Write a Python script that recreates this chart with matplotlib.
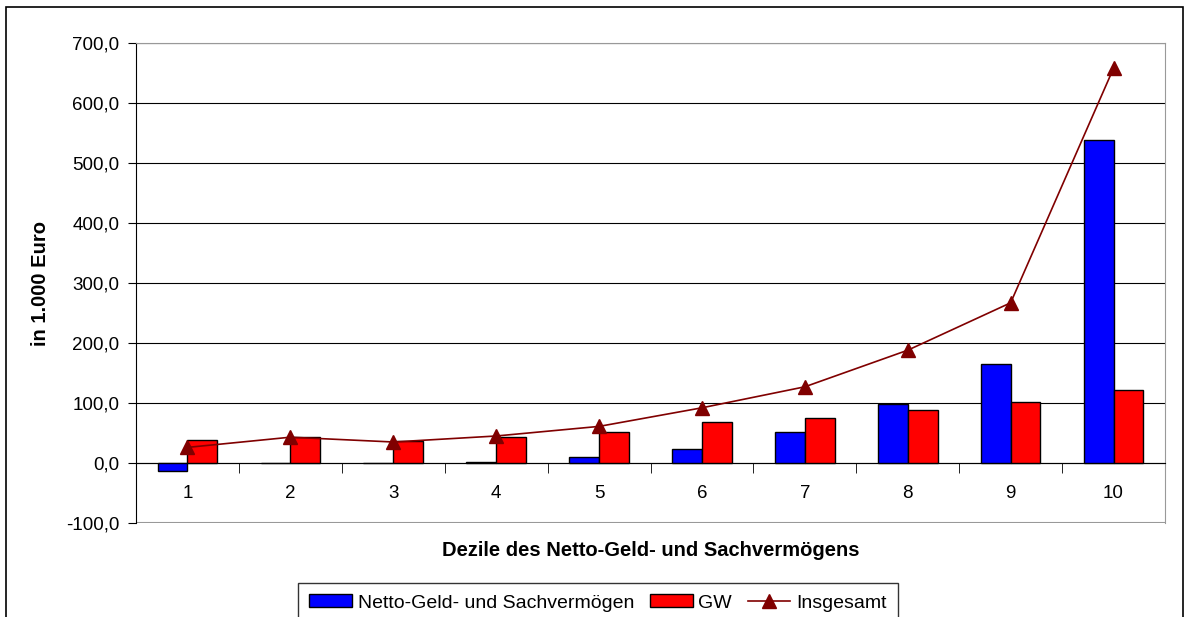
import matplotlib.pyplot as plt
import matplotlib.patches as mpatches
import numpy as np

plt.rcParams['font.family'] = ['Liberation Sans', 'DejaVu Sans']

# Dezile
dezile = [1, 2, 3, 4, 5, 6, 7, 8, 9, 10]
netto = [-14.0, 0.0, 0.0, 2.0, 10.0, 23.0, 52.0, 98.0, 165.0, 538.0]
gw = [38.0, 44.0, 37.0, 44.0, 52.0, 68.0, 75.0, 88.0, 101.0, 122.0]
insgesamt = [26.0, 43.0, 35.0, 45.0, 61.0, 92.0, 127.0, 188.0, 267.0, 658.0]

fig = plt.figure(figsize=(11.89, 6.17), dpi=100)
ax = fig.add_axes([136/1189, 1 - 523/617, (1165-136)/1189, 480/617])

x = np.array(dezile)
w = 0.29
b1 = ax.bar(x - w/2, netto, w, color='#0000FF', edgecolor='black', linewidth=1, zorder=3,
            label='Netto-Geld- und Sachvermögen')
b2 = ax.bar(x + w/2, gw, w, color='#FF0000', edgecolor='black', linewidth=1, zorder=3,
            label='GW')
l1, = ax.plot(x, insgesamt, color='#800000', lw=1.2, marker='^', markersize=10, zorder=4,
              label='Insgesamt')

ax.set_xlim(0.5, 10.5)
ax.set_ylim(-100, 700)
yt = np.arange(-100, 701, 100)
ax.set_yticks(yt)
ax.set_yticklabels([f"{v:.1f}".replace('.', ',') for v in yt], fontsize=13.5)
ax.yaxis.grid(True, color='black', lw=0.8, zorder=0)
ax.set_axisbelow(True)

ax.spines['bottom'].set_position(('data', 0))
ax.spines['bottom'].set_color('black')
ax.spines['left'].set_color('black')
ax.spines['top'].set_color('#999999')
ax.spines['right'].set_color('#999999')
ax.axhline(-100, color='#999999', lw=1.5, zorder=1)

ax.set_xticks(x)
ax.set_xticklabels([str(d) for d in dezile], fontsize=13.5)
ax.set_xticks(np.arange(0.5, 10.6, 1), minor=True)
ax.tick_params(axis='x', which='major', length=0, pad=16)
ax.tick_params(axis='x', which='minor', length=7, direction='out', color='black')
ax.tick_params(axis='y', length=6, direction='out', color='black', pad=6)

fig.text(651/1189, 1 - 550/617, 'Dezile des Netto-Geld- und Sachvermögens',
         ha='center', va='center', fontsize=14.5, fontweight='bold')
fig.text(40/1189, 1 - 283/617, 'in 1.000 Euro', rotation=90,
         ha='center', va='center', fontsize=14.5, fontweight='bold')

leg = fig.legend([b1, b2, l1], ['Netto-Geld- und Sachvermögen', 'GW', 'Insgesamt'],
                 loc='center', bbox_to_anchor=(598/1189, 1 - 603/617), ncol=3,
                 fontsize=14, frameon=True, fancybox=False, edgecolor='black',
                 handlelength=2.2, handleheight=0.6, handletextpad=0.3,
                 columnspacing=0.8, borderpad=0.6, borderaxespad=0)
leg.get_frame().set_linewidth(1)

# Rahmen um die Grafik
fig.patches.append(mpatches.Rectangle((6/1189, -0.05), 1177/1189, 1 - 7/617 + 0.05,
                                      transform=fig.transFigure, fill=False,
                                      edgecolor='black', lw=1.2))

fig.savefig('out.png', dpi=100)
